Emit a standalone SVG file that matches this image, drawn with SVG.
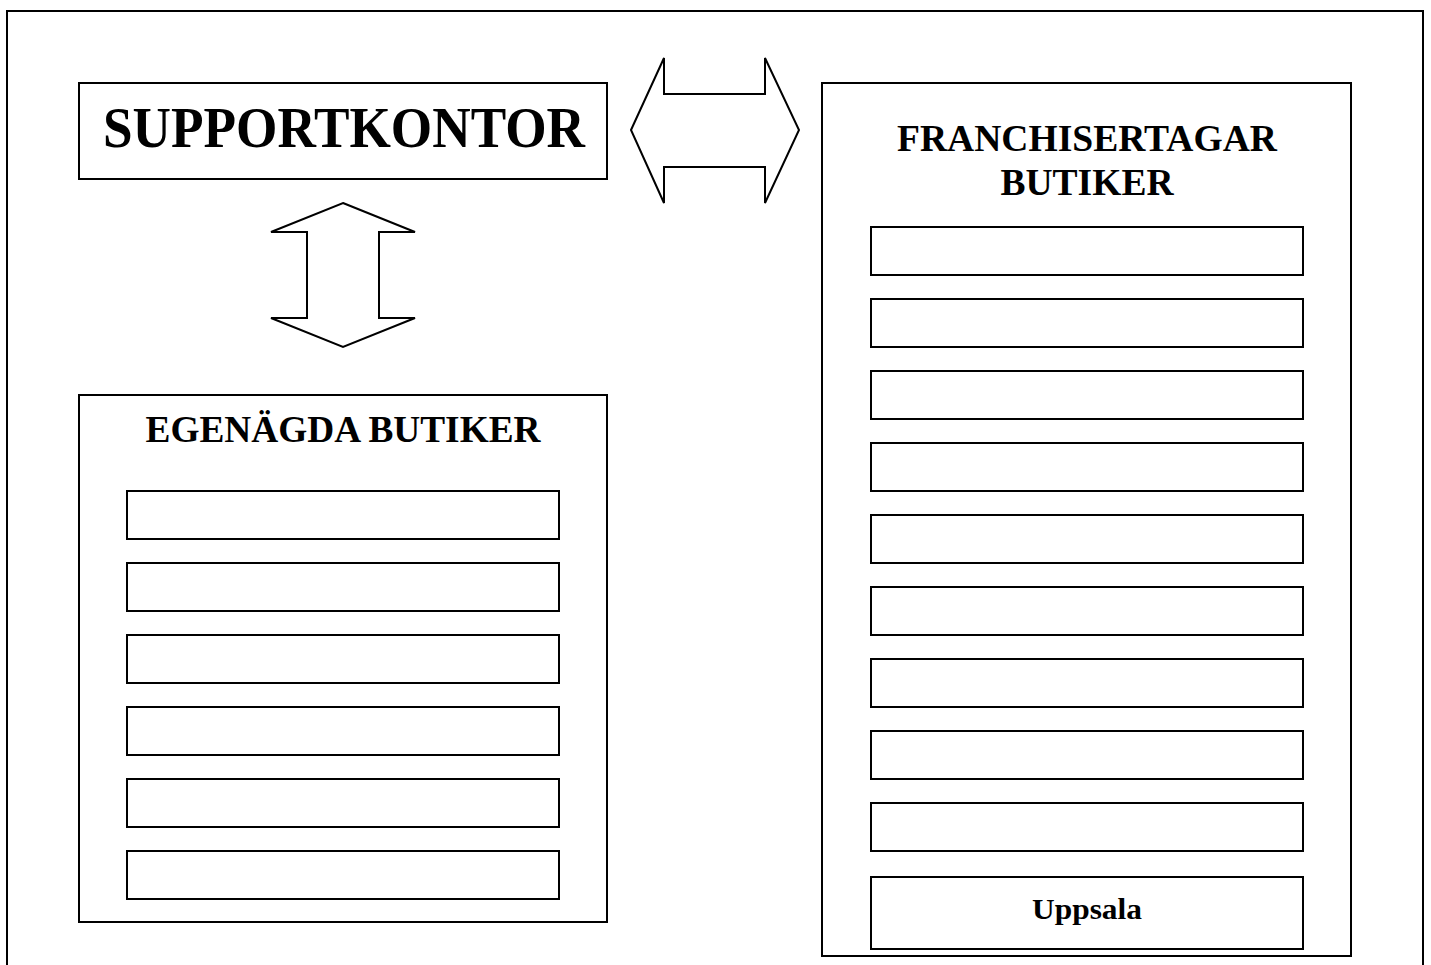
<svg xmlns="http://www.w3.org/2000/svg" width="1431" height="965" viewBox="0 0 1431 965">
  <style>
    .box { fill: #ffffff; stroke: #000000; stroke-width: 2; }
    .arrow { fill: #ffffff; stroke: #000000; stroke-width: 2; stroke-linejoin: miter; }
    .title { font-family: "Liberation Serif", "Times New Roman", serif; font-weight: bold; fill: #000000; text-anchor: middle; }
  </style>

  <rect width="1431" height="965" fill="#ffffff"/>

  <!-- page frame (runs past the lower edge) -->
  <g id="frame">
    <rect class="box" x="7" y="11" width="1416" height="980" fill="none"/>
  </g>

  <!-- head office -->
  <g id="supportkontor">
    <rect class="box" x="79" y="83" width="528" height="96"/>
    <text class="title" x="344" y="147" font-size="56" textLength="482" lengthAdjust="spacingAndGlyphs">SUPPORTKONTOR</text>
  </g>

  <!-- two-way block arrows -->
  <g id="connectors">
    <polygon class="arrow" points="631,130 664,58 664,94 765,94 765,58 799,130 765,203 765,167 664,167 664,203"/>
    <polygon class="arrow" points="343,203 415,232 379,232 379,318 415,318 343,347 271,318 307,318 307,232 271,232"/>
  </g>

  <!-- company-owned stores -->
  <g id="egenagda">
    <rect class="box" x="79" y="395" width="528" height="527"/>
    <text class="title" x="343" y="442" font-size="38" textLength="395" lengthAdjust="spacingAndGlyphs">EGENÄGDA BUTIKER</text>
    <rect class="box" x="127" y="491" width="432" height="48"/>
    <rect class="box" x="127" y="563" width="432" height="48"/>
    <rect class="box" x="127" y="635" width="432" height="48"/>
    <rect class="box" x="127" y="707" width="432" height="48"/>
    <rect class="box" x="127" y="779" width="432" height="48"/>
    <rect class="box" x="127" y="851" width="432" height="48"/>
  </g>

  <!-- franchise stores -->
  <g id="franchise">
    <rect class="box" x="822" y="83" width="529" height="873"/>
    <text class="title" x="1087" y="151" font-size="38" textLength="380" lengthAdjust="spacingAndGlyphs">FRANCHISERTAGAR</text>
    <text class="title" x="1087" y="195" font-size="38" textLength="173" lengthAdjust="spacingAndGlyphs">BUTIKER</text>
    <rect class="box" x="871" y="227" width="432" height="48"/>
    <rect class="box" x="871" y="299" width="432" height="48"/>
    <rect class="box" x="871" y="371" width="432" height="48"/>
    <rect class="box" x="871" y="443" width="432" height="48"/>
    <rect class="box" x="871" y="515" width="432" height="48"/>
    <rect class="box" x="871" y="587" width="432" height="48"/>
    <rect class="box" x="871" y="659" width="432" height="48"/>
    <rect class="box" x="871" y="731" width="432" height="48"/>
    <rect class="box" x="871" y="803" width="432" height="48"/>
    <g id="uppsala">
      <rect class="box" x="871" y="877" width="432" height="72"/>
      <text class="title" x="1087" y="919" font-size="30" textLength="110" lengthAdjust="spacingAndGlyphs">Uppsala</text>
    </g>
  </g>
</svg>
